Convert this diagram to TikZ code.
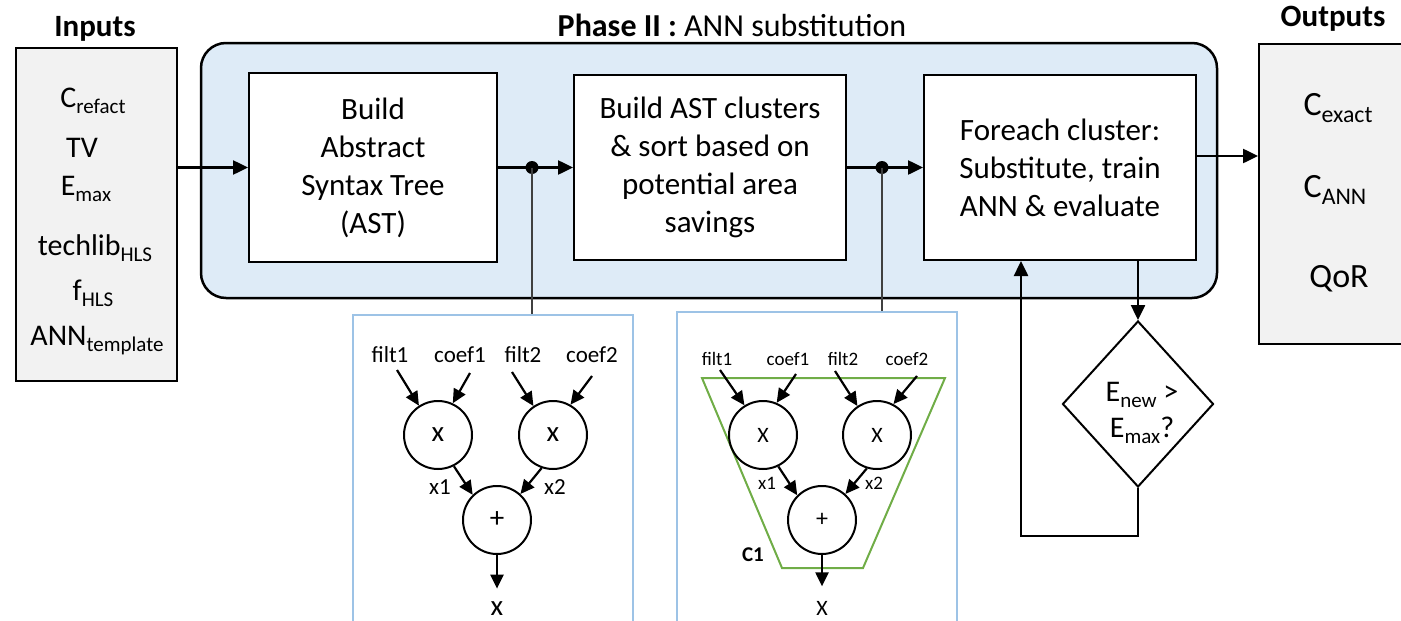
\documentclass[tikz,border=0pt]{standalone}
\usepackage{fontspec}
\usepackage{graphicx}
\setmainfont{Carlito}
\usetikzlibrary{arrows.meta,shapes.geometric}

\definecolor{phasefill}{HTML}{DEEBF7}
\definecolor{iofill}{HTML}{F2F2F2}
\definecolor{panelblue}{HTML}{9DC3E6}
\definecolor{clustergreen}{HTML}{70AD47}

\newcommand{\lowsub}[1]{\raisebox{-0.22em}{\scalebox{0.7}{#1}}}

\begin{document}
\begin{tikzpicture}[x=1pt,y=-1pt,
    stepbox/.style={draw,fill=white,line width=2pt,align=center,font=\fontsize{31}{38}\selectfont},
    iobox/.style={draw,fill=iofill,line width=2pt,anchor=north west},
    iotitle/.style={anchor=base,font=\bfseries\fontsize{31}{36}\selectfont},
    ioitem/.style={anchor=base,font=\fontsize{30}{36}\selectfont},
    outitem/.style={anchor=base,font=\fontsize{34}{40}\selectfont},
    flow/.style={line width=2.5pt,-{Triangle[length=15pt,width=14pt]}},
    tarr/.style={line width=2.2pt,-{Triangle[length=14pt,width=13pt]}},
    opnode/.style={draw,circle,line width=2pt,minimum size=68pt,inner sep=0pt},
    panel/.style={draw=panelblue,line width=1.5pt,anchor=north west,minimum width=280pt,minimum height=340pt},
    tap/.style={line width=1.2pt,draw=black!75}]
  \useasboundingbox (0,0) rectangle (1401,621);

  \node[iobox,minimum width=161pt,minimum height=333pt] (inputs) at (15,47) {};
  \node[iotitle] (intitle) at (95,36) {Inputs};
  \node[ioitem] (crefact) at (93,107) {C\lowsub{refact}};
  \node[ioitem] (tv) at (82,157) {TV};
  \node[ioitem] (emax) at (86,195) {E\lowsub{max}};
  \node[ioitem] (techlib) at (95,255) {techlib\lowsub{HLS}};
  \node[ioitem] (fhls) at (93,300) {f\lowsub{HLS}};
  \node[ioitem] (anntpl) at (97,345) {ANN\lowsub{template}};

  \node[draw,fill=phasefill,rounded corners=25pt,line width=2.5pt,minimum width=1016pt,minimum height=255pt] (phase) at (709,170.5) {};
  \node[anchor=base,font=\fontsize{32}{38}\selectfont] (phasetitle) at (732,36) {\textbf{Phase II :} ANN substitution};

  \node[stepbox,minimum width=248pt,minimum height=189pt] (ast) at (373,167.5) {Build\\Abstract\\Syntax Tree\\(AST)};
  \node[stepbox,minimum width=272pt,minimum height=185pt] (clusters) at (710,167.5) {Build AST clusters\\\& sort based on\\potential area\\savings};
  \node[stepbox,minimum width=272pt,minimum height=185pt] (foreach) at (1060,167.5) {Foreach cluster:\\Substitute, train\\ANN \& evaluate};

  \node[iobox,minimum width=170pt,minimum height=300pt] (outputs) at (1258,43) {};
  \node[iotitle] (outtitle) at (1333,27) {Outputs};
  \node[outitem] (cexact) at (1338,115) {C\lowsub{exact}};
  \node[outitem] (cann) at (1335,197) {C\lowsub{ANN}};
  \node[outitem] (qor) at (1339,287) {QoR};

  \node[draw,diamond,line width=2pt,inner sep=0pt,minimum width=151pt,minimum height=166pt] (check) at (1138,404) {};
  \node[align=center,font=\fontsize{30}{36}\selectfont] (checktxt) at (1142,413) {E\lowsub{new} >\\E\lowsub{max}?};

  \node[panel] (tree1) at (352,314) {};
  \node[panel] (tree2) at (676,311) {};

  \coordinate (tap1) at (532,167.5);
  \coordinate (tap2) at (882,167.5);
  \coordinate (toout) at ([yshift=11.5pt]foreach.east);

  \draw[flow] (inputs.east |- ast) -- (ast);
  \draw[flow] (ast) -- (clusters);
  \draw[flow] (clusters) -- (foreach);
  \draw[flow] (toout) -- (toout -| outputs.west);
  \draw[flow] (foreach.south -| check.north) -- (check.north);
  \draw[flow] (check.south) -- ++(0,48) -| ([xshift=-39pt]foreach.south);
  \fill (tap1) circle (6.5pt);
  \fill (tap2) circle (6.5pt);
  \draw[tap] (tap1) -- (tap1 |- tree1.north);
  \draw[tap] (tap2) -- (tap2 |- tree2.north);

  \begin{scope}[font=\fontsize{23}{28}\selectfont]
    \node[anchor=base] (filta) at (390,362) {filt1};
    \node[anchor=base] (coefa) at (460,362) {coef1};
    \node[anchor=base] (filtb) at (523,362) {filt2};
    \node[anchor=base] (coefb) at (592,362) {coef2};
    \node[opnode,font=\fontsize{29}{32}\selectfont] (mula) at (438,435) {x};
    \node[opnode,font=\fontsize{29}{32}\selectfont] (mulb) at (553,435) {x};
    \node[opnode,font=\fontsize{29}{32}\selectfont] (suma) at (497,520) {+};
    \node (xa) at (440,487) {x1};
    \node (xb) at (555,487) {x2};
    \node[anchor=base,font=\fontsize{29}{32}\selectfont] (outa) at (497,615) {x};
  \end{scope}
  \coordinate (filtas) at (397,370);
  \coordinate (coefas) at (470,373);
  \coordinate (filtbs) at (512,372);
  \coordinate (coefbs) at (592,376);
  \draw[tarr] (filtas) -- (mula.123);
  \draw[tarr] (coefas) -- (mula.65);
  \draw[tarr] (filtbs) -- (mulb.124);
  \draw[tarr] (coefbs) -- (mulb.60);
  \draw[tarr] (mula.-63) -- (suma.134);
  \draw[tarr] (mulb.-109) -- (suma.48);
  \draw[tarr,shorten >=9pt] (suma) -- (outa);

  \draw[draw=clustergreen,line width=2pt] (702,378) -- (945,378) -- (863,568) -- (782,568) -- cycle;
  \begin{scope}[font=\fontsize{19}{24}\selectfont]
    \node[anchor=base] (filtc) at (717,365) {filt1};
    \node[anchor=base] (coefc) at (788,365) {coef1};
    \node[anchor=base] (filtd) at (843,365) {filt2};
    \node[anchor=base] (coefd) at (907,365) {coef2};
    \node[opnode,font=\fontsize{22}{26}\selectfont] (mulc) at (763,435) {X};
    \node[opnode,font=\fontsize{22}{26}\selectfont] (muld) at (877,435) {X};
    \node[opnode,font=\fontsize{24}{26}\selectfont] (sumc) at (822,520) {+};
    \node (xc) at (767,483) {x1};
    \node (xd) at (874,483) {x2};
    \node[font=\bfseries\fontsize{21}{26}\selectfont] (cone) at (753,555) {C1};
    \node[anchor=base,font=\fontsize{22}{26}\selectfont] (outc) at (822,615) {X};
  \end{scope}
  \coordinate (filtcs) at (720,370);
  \coordinate (coefcs) at (796,374);
  \coordinate (filtds) at (835,371);
  \coordinate (coefds) at (917,376);
  \draw[tarr] (filtcs) -- (mulc.122);
  \draw[tarr] (coefcs) -- (mulc.67);
  \draw[tarr] (filtds) -- (muld.124);
  \draw[tarr] (coefds) -- (muld.62);
  \draw[tarr] (mulc.-64) -- (sumc.135);
  \draw[tarr] (muld.-107) -- (sumc.48);
  \draw[tarr,shorten >=11pt] (sumc) -- (outc);
\end{tikzpicture}
\end{document}
